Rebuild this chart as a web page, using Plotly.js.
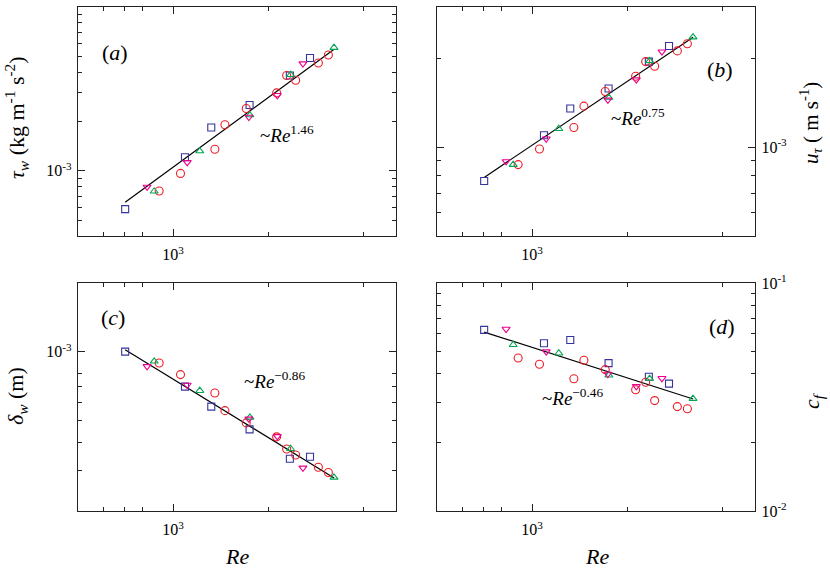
<!DOCTYPE html>
<html>
<head>
<meta charset="utf-8">
<script src="https://cdn.plot.ly/plotly-3.0.1.min.js"></script>
<style>
  html, body { margin: 0; padding: 0; background: #fff; }
  #plot { width: 830px; height: 570px; }
</style>
</head>
<body>
<div id="plot"></div>
<script>
// Reynolds numbers of the four data sets
var reSq = [705, 1090, 1320, 1745, 2340, 2710];
var reCi = [903, 1055, 1355, 1458, 1703, 2125, 2286, 2441, 2880, 3098];
var reUp = [871, 1214, 1749, 2353, 3228];
var reDn = [827, 1108, 1736, 2136, 2574];

// (a) wall shear stress
var tauSq = [5.84e-4, 1.21e-3, 1.84e-3, 2.52e-3, 3.82e-3, 4.88e-3];
var tauCi = [7.53e-4, 9.64e-4, 1.354e-3, 1.91e-3, 2.40e-3, 2.99e-3, 3.82e-3, 3.57e-3, 4.55e-3, 5.09e-3];
var tauUp = [7.5e-4, 1.32e-3, 2.19e-3, 3.86e-3, 5.65e-3];
var tauDn = [7.97e-4, 1.126e-3, 2.13e-3, 2.89e-3, 4.51e-3];

// (b) friction velocity
var utauSq = [7.69e-4, 1.10e-3, 1.356e-3, 1.585e-3, 1.957e-3, 2.21e-3];
var utauCi = [8.74e-4, 9.88e-4, 1.169e-3, 1.381e-3, 1.549e-3, 1.746e-3, 1.957e-3, 1.888e-3, 2.128e-3, 2.25e-3];
var utauUp = [8.74e-4, 1.157e-3, 1.477e-3, 1.968e-3, 2.37e-3];
var utauDn = [8.96e-4, 1.07e-3, 1.451e-3, 1.70e-3, 2.115e-3];

// (c) viscous length
var deltaSq = [1.0e-3, 7.02e-4, 5.74e-4, 4.56e-4, 3.39e-4, 3.46e-4];
var deltaCi = [8.92e-4, 7.93e-4, 6.59e-4, 5.51e-4, 4.87e-4, 4.23e-4, 3.74e-4, 3.52e-4, 3.11e-4, 2.95e-4];
var deltaUp = [9.07e-4, 6.74e-4, 5.15e-4, 3.75e-4, 2.81e-4];
var deltaDn = [8.62e-4, 7.14e-4, 5.07e-4, 4.25e-4, 3.09e-4];

// (d) friction coefficient
var cfSq = [6.23e-2, 5.44e-2, 5.62e-2, 4.45e-2, 3.88e-2, 3.62e-2];
var cfCi = [4.69e-2, 4.40e-2, 3.80e-2, 4.58e-2, 4.17e-2, 3.40e-2, 3.67e-2, 3.05e-2, 2.87e-2, 2.81e-2];
var cfUp = [5.36e-2, 4.92e-2, 3.94e-2, 3.81e-2, 3.11e-2];
var cfDn = [6.28e-2, 5.0e-2, 3.99e-2, 3.52e-2, 3.82e-2];

// power-law fit lines (end points)
var fitRe = [705, 3230];
var fitTau = [6.42e-4, 5.52e-3];
var fitUtau = [7.91e-4, 2.37e-3];
var fitDelta = [1.02e-3, 2.79e-4];
var fitCf = [6.09e-2, 3.10e-2];

var W = 830, H = 570;
var FONT = 'Liberation Serif';

function px(x) { return x / W; }
function py(y) { return 1 - y / H; }

var styles = [
    {re: reSq, symbol: 'square-open', color: '#34349c', size: 7},
    {re: reCi, symbol: 'circle-open', color: '#ed1c24', size: 8},
    {re: reUp, symbol: 'triangle-up-open', color: '#00a651', size: 7},
    {re: reDn, symbol: 'triangle-down-open', color: '#ec008c', size: 7}
];

var traces = [];
function addPanel(xa, ya, sets, fitY) {
    traces.push({
        x: fitRe, y: fitY, xaxis: xa, yaxis: ya,
        mode: 'lines', line: {color: '#000', width: 1.2},
        showlegend: false, hoverinfo: 'skip'
    });
    styles.forEach(function (s, i) {
        traces.push({
            x: s.re, y: sets[i], xaxis: xa, yaxis: ya,
            mode: 'markers', showlegend: false,
            marker: {symbol: s.symbol, size: s.size, color: s.color, line: {width: 1.1, color: s.color}}
        });
    });
}
addPanel('x', 'y', [tauSq, tauCi, tauUp, tauDn], fitTau);
addPanel('x2', 'y2', [utauSq, utauCi, utauUp, utauDn], fitUtau);
addPanel('x3', 'y3', [deltaSq, deltaCi, deltaUp, deltaDn], fitDelta);
addPanel('x4', 'y4', [cfSq, cfCi, cfUp, cfDn], fitCf);

function baseAxis(extra) {
    var ax = {
        type: 'log', showgrid: false, zeroline: false,
        showline: true, linecolor: '#222', linewidth: 1.2, mirror: 'ticks',
        ticks: 'inside', ticklen: 7, tickwidth: 1, tickcolor: '#222',
        tickmode: 'array',
        tickfont: {family: FONT, size: 16, color: '#000'},
        minor: {ticks: 'inside', ticklen: 4, tickwidth: 1, tickcolor: '#222', tickmode: 'array'}
    };
    for (var k in extra) ax[k] = extra[k];
    return ax;
}

function xAxis(dom, anchor) {
    var ax = baseAxis({domain: dom, anchor: anchor, range: [Math.log10(500), 3.705],
        tickvals: [1000], ticktext: ['10<sup>3</sup>'], ticklabelstandoff: 4});
    ax.minor.tickvals = [600, 700, 800, 2000, 4000];
    return ax;
}

function yAxis(dom, anchor, side, range, vals, text, minorVals) {
    var ax = baseAxis({domain: dom, anchor: anchor, side: side, range: range,
        tickvals: vals, ticktext: text, ticklabelstandoff: 2});
    ax.minor.tickvals = minorVals;
    return ax;
}

var xa = [px(78), px(396)], xb = [px(437), px(755)];
var ytop = [py(236), py(7)], ybot = [py(511), py(283)];

// text labels: [text, page x, page y, size, angle]
var labels = [
    ['(<i>a</i>)', 115, 52, 22, 0],
    ['~<i>Re</i><sup>1.46</sup>', 287, 134, 19, 0],
    ['(<i>b</i>)', 720, 70, 22, 0],
    ['~<i>Re</i><sup>0.75</sup>', 638, 117, 19, 0],
    ['(<i>c</i>)', 113, 317, 22, 0],
    ['~<i>Re</i><sup>−0.86</sup>', 274, 380, 19, 0],
    ['(<i>d</i>)', 722, 326, 22, 0],
    ['~<i>Re</i><sup>−0.46</sup>', 572, 397, 19, 0],
    ['<i>τ</i><sub><i>w</i></sub> (kg m<sup>-1</sup> s<sup>-2</sup>)', 17, 118, 22, -90],
    ['<i>u</i><sub><i>τ</i></sub> ( m s<sup>-1</sup>)', 810, 123, 21, -90],
    ['<i>δ</i><sub><i>w</i></sub> (m)', 17, 396, 22, -90],
    ['<i>c</i><sub><i>f</i></sub>', 813, 401, 22, -90],
    ['<i>Re</i>', 237, 556, 22, 0],
    ['<i>Re</i>', 597, 556, 22, 0]
];

var layout = {
    width: W, height: H,
    margin: {l: 0, r: 0, t: 0, b: 0},
    paper_bgcolor: '#fff', plot_bgcolor: '#fff',
    font: {family: FONT, color: '#000'},
    xaxis: xAxis(xa, 'y'),
    xaxis2: xAxis(xb, 'y2'),
    xaxis3: xAxis(xa, 'y3'),
    xaxis4: xAxis(xb, 'y4'),
    yaxis: yAxis(ytop, 'x', 'left', [Math.log10(4e-4), -2], [1e-3, 1e-2],
        ['10<sup>-3</sup>', '10<sup>-2</sup>'],
        [4e-4, 5e-4, 6e-4, 7e-4, 8e-4, 9e-4, 2e-3, 3e-3, 4e-3, 5e-3, 6e-3, 7e-3, 8e-3, 9e-3]),
    yaxis2: yAxis(ytop, 'x2', 'right', [Math.log10(5e-4), Math.log10(3e-3)], [1e-3],
        ['10<sup>-3</sup>'], [6e-4, 7e-4, 8e-4, 9e-4, 2e-3]),
    yaxis3: yAxis(ybot, 'x3', 'left', [Math.log10(2e-4), Math.log10(2e-3)], [1e-3],
        ['10<sup>-3</sup>'], [3e-4, 4e-4, 5e-4, 6e-4, 7e-4, 8e-4]),
    yaxis4: yAxis(ybot, 'x4', 'right', [-2, -1], [1e-2, 1e-1],
        ['10<sup>-2</sup>', '10<sup>-1</sup>'], [2e-2, 3e-2, 4e-2, 5e-2, 6e-2, 7e-2, 8e-2, 9e-2]),
    annotations: labels.map(function (a) {
        return {text: a[0], x: px(a[1]), y: py(a[2]), xref: 'paper', yref: 'paper',
            showarrow: false, xanchor: 'center', yanchor: 'middle', textangle: a[4],
            font: {family: FONT, size: a[3], color: '#000'}};
    })
};

Plotly.newPlot('plot', traces, layout, {displayModeBar: false, staticPlot: true});
</script>
</body>
</html>
